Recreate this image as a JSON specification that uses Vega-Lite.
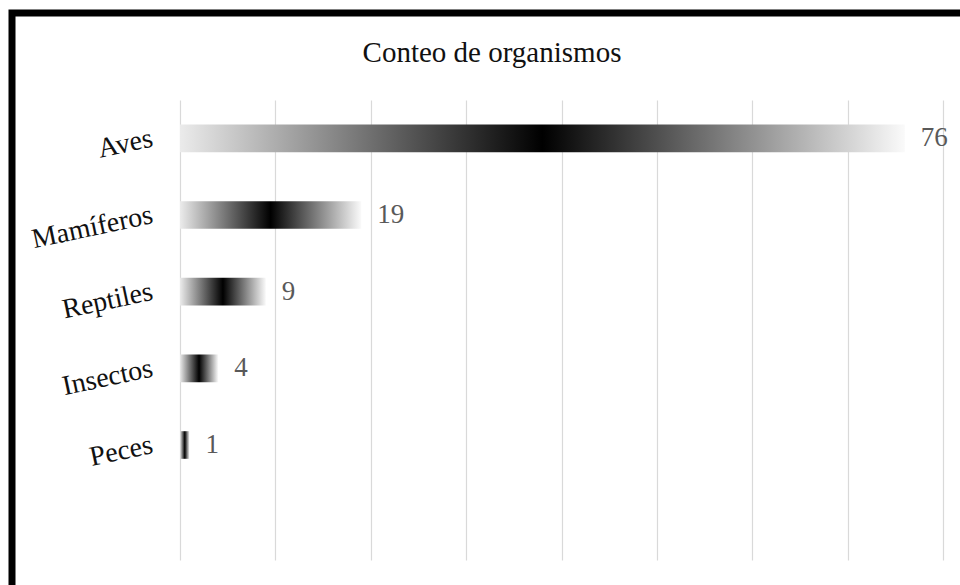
{
  "$schema": "https://vega.github.io/schema/vega-lite/v6.json",
  "autosize": {"type": "none"},
  "width": 948,
  "height": 572,
  "padding": {"left": 12, "top": 13, "right": 0, "bottom": 0},
  "background": "white",
  "title": {
    "text": "Conteo de organismos",
    "font": "Liberation Serif",
    "fontSize": 29,
    "fontWeight": "normal",
    "color": "#111111",
    "anchor": "middle",
    "baseline": "alphabetic",
    "offset": -78,
    "dx": 6
  },
  "config": {
    "view": {
      "stroke": "#000000",
      "strokeWidth": 7,
      "strokeDash": [948, 1520, 572],
      "strokeCap": "square",
      "fill": "white"
    }
  },
  "data": {
    "values": [
      {"grupo": "Aves", "conteo": 76},
      {"grupo": "Mamíferos", "conteo": 19},
      {"grupo": "Reptiles", "conteo": 9},
      {"grupo": "Insectos", "conteo": 4},
      {"grupo": "Peces", "conteo": 1}
    ]
  },
  "encoding": {
    "y": {
      "field": "grupo",
      "type": "nominal",
      "sort": null,
      "scale": {
        "domain": ["Aves", "Mamíferos", "Reptiles", "Insectos", "Peces", " "],
        "range": [87, 547],
        "paddingInner": 0,
        "paddingOuter": 0
      },
      "axis": {
        "title": null,
        "offset": -168,
        "domain": false,
        "ticks": false,
        "tickSize": 0,
        "grid": false,
        "labelAngle": -12,
        "labelAlign": "right",
        "labelBaseline": "middle",
        "labelPadding": 28,
        "labelFont": "Liberation Serif",
        "labelFontSize": 28,
        "labelColor": "#111111",
        "labelLimit": 300
      }
    },
    "x": {
      "field": "conteo",
      "type": "quantitative",
      "scale": {"domain": [0, 80], "range": [168, 931], "nice": false, "zero": true},
      "axis": {
        "orient": "top",
        "title": null,
        "values": [0, 10, 20, 30, 40, 50, 60, 70, 80],
        "labels": false,
        "ticks": false,
        "domain": false,
        "grid": true,
        "gridColor": "#d9d9d9",
        "gridWidth": 1.2
      }
    }
  },
  "layer": [
    {
      "mark": {
        "type": "bar",
        "height": {"band": 0.36},
        "color": {
          "gradient": "linear",
          "x1": 0, "x2": 1, "y1": 0, "y2": 0,
          "stops": [
            {"offset": 0, "color": "#ebebeb"},
            {"offset": 0.5, "color": "#000000"},
            {"offset": 1, "color": "#fafafa"}
          ]
        }
      }
    },
    {
      "mark": {
        "type": "text",
        "align": "left",
        "baseline": "middle",
        "dx": 16,
        "font": "Liberation Serif",
        "fontSize": 27,
        "color": "#595959"
      },
      "encoding": {"text": {"field": "conteo", "type": "quantitative"}}
    }
  ]
}
